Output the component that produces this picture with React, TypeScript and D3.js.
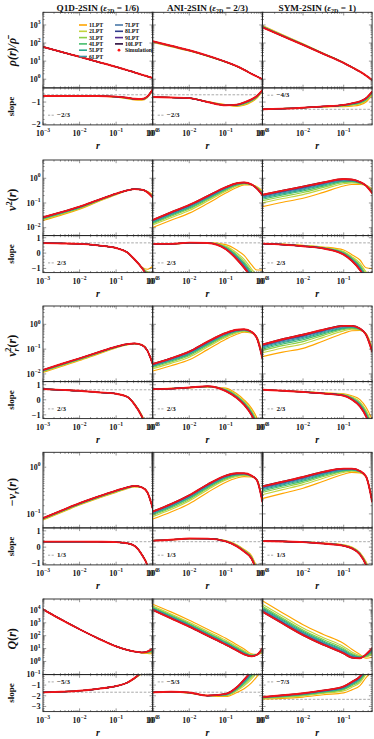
import React from 'react';
import * as d3 from 'd3';

// log10(r) nodes the curves were read at
const R_NODES = [-3, -2.5, -2, -1.5, -1, -0.7, -0.5, -0.3, -0.15, 0];
const R_NODES_SYM = [-3, -2.5, -2, -1.5, -1, -0.8, -0.6, -0.45, -0.3];

const MODELS = ['Q1D-2SIN', 'ANI-2SIN', 'SYM-2SIN'];
const MODEL_EPS = ['1/6', '2/3', '1'];

const LPT_ORDERS = ['1LPT', '2LPT', '3LPT', '4LPT', '5LPT', '6LPT', '7LPT', '8LPT', '9LPT', '10LPT'];
const LPT_COLORS = ['#ffa500', '#c3d43c', '#8ccf45', '#45bd6c', '#27a88c', '#3a98a6', '#4a78a8', '#2f3d8b', '#52298e', '#2a0838'];
// where each order sits inside the fan (1LPT = whole gap to the simulation)
const ORDER_FRACTION = [1, 0.68, 0.5, 0.37, 0.27, 0.19, 0.12, 0.06, 0.01, -0.03];

// ---- density rho(r)/rho_bar (log10) and its slope
const RHO_Q1D = [1.79, 1.51, 1.24, 0.96, 0.68, 0.5, 0.38, 0.25, 0.16, 0.07];
const RHO_Q1D_GAP = [0, 0, 0, 0, 0, 0, 0, 0, 0, 0];
const RHO_Q1D_SLOPE = [-0.72, -0.72, -0.72, -0.72, -0.75, -0.8, -0.85, -0.86, -0.75, -0.42];
const RHO_Q1D_SLOPE_GAP = [0, 0, 0, 0, -0.03, -0.04, -0.05, -0.05, -0.05, -0.03];
const RHO_ANI = [2.1, 1.85, 1.6, 1.3, 0.96, 0.72, 0.52, 0.3, 0.15, 0.0];
const RHO_ANI_GAP = [-0.06, -0.05, -0.04, -0.03, -0.02, -0.01, 0, 0, 0, 0];
const RHO_ANI_SLOPE = [-0.77, -0.79, -0.82, -1.0, -1.15, -1.12, -1.02, -0.88, -0.72, -0.45];
const RHO_ANI_SLOPE_GAP = [0, 0, 0, 0.02, 0.03, -0.08, -0.13, -0.12, -0.1, -0.05];
const RHO_SYM = [2.87, 2.38, 1.9, 1.4, 0.9, 0.66, 0.42, 0.2, -0.05];
const RHO_SYM_GAP = [0.1, 0.08, 0.06, 0.04, 0.02, 0.01, 0, 0, 0];
const RHO_SYM_SLOPE = [-1.33, -1.3, -1.26, -1.2, -1.13, -1.06, -0.97, -0.82, -0.52];
const RHO_SYM_SLOPE_GAP = [0, 0, 0, -0.02, -0.08, -0.13, -0.16, -0.18, -0.15];

// ---- v^2(r)
const V2_Q1D = [-1.58, -1.37, -1.15, -0.88, -0.62, -0.49, -0.44, -0.46, -0.56, -0.77];
const V2_Q1D_GAP = [-0.13, -0.12, -0.1, -0.07, -0.04, -0.01, 0, 0, 0.03, 0.1];
const V2_Q1D_SLOPE = [0.65, 0.63, 0.6, 0.5, 0.33, 0.05, -0.4, -0.95, -1.5, -2.2];
const V2_Q1D_SLOPE_GAP = [0, 0, 0, 0, 0, 0, 0, 0.05, 0.45, 1.35];
const V2_ANI = [-1.69, -1.38, -1.08, -0.72, -0.36, -0.2, -0.17, -0.25, -0.42, -0.68];
const V2_ANI_GAP = [-0.3, -0.32, -0.33, -0.3, -0.24, -0.17, -0.1, -0.02, 0.08, 0.17];
const V2_ANI_SLOPE = [0.6, 0.6, 0.68, 0.66, 0.25, -0.4, -0.95, -1.6, -2.2, -3];
const V2_ANI_SLOPE_GAP = [0.02, 0, -0.02, 0.02, 0.3, 0.6, 0.8, 0.85, 1.1, 1.9];
const V2_SYM = [-0.67, -0.5, -0.34, -0.17, -0.03, -0.05, -0.15, -0.3, -0.6];
const V2_SYM_GAP = [-0.48, -0.47, -0.47, -0.4, -0.28, -0.2, -0.1, 0.02, 0.16];
const V2_SYM_SLOPE = [0.62, 0.55, 0.45, 0.3, -0.1, -0.5, -1.1, -1.8, -2.6];
const V2_SYM_SLOPE_GAP = [0, 0.03, 0.05, 0.1, 0.3, 0.4, 0.65, 0.85, 1.6];

// ---- v_r^2(r)
const VR2_Q1D = [-1.84, -1.6, -1.37, -1.13, -0.9, -0.8, -0.77, -0.83, -1.05, -1.6];
const VR2_Q1D_GAP = [-0.1, -0.1, -0.09, -0.07, -0.05, -0.03, -0.02, 0, 0, 0];
const VR2_Q1D_SLOPE = [0.71, 0.66, 0.6, 0.5, 0.4, 0.2, -0.3, -1.1, -2, -3];
const VR2_Q1D_SLOPE_GAP = [0, 0, 0, 0, 0, 0.02, 0.05, 0.1, 0.2, 0.3];
const VR2_ANI = [-1.6, -1.37, -1.1, -0.7, -0.35, -0.22, -0.2, -0.3, -0.56, -1.37];
const VR2_ANI_GAP = [-0.28, -0.3, -0.33, -0.32, -0.25, -0.18, -0.12, -0.05, 0.05, 0.2];
const VR2_ANI_SLOPE = [0.71, 0.74, 0.82, 0.9, 0.58, 0.12, -0.33, -1.0, -1.8, -3];
const VR2_ANI_SLOPE_GAP = [0.01, 0.02, -0.02, -0.05, 0.2, 0.28, 0.33, 0.45, 0.6, 0.8];
const VR2_SYM = [-0.82, -0.6, -0.42, -0.22, -0.06, -0.06, -0.17, -0.42, -1.1];
const VR2_SYM_GAP = [-0.48, -0.52, -0.55, -0.45, -0.3, -0.2, -0.08, 0.05, 0.15];
const VR2_SYM_SLOPE = [0.67, 0.6, 0.52, 0.42, 0.27, 0.02, -0.44, -1.1, -2.2];
const VR2_SYM_SLOPE_GAP = [0, 0, 0.02, 0.05, 0.13, 0.25, 0.45, 0.6, 0.9];

// ---- -v_r(r)
const VR_Q1D = [-1.09, -0.93, -0.77, -0.63, -0.5, -0.43, -0.4, -0.43, -0.53, -0.88];
const VR_Q1D_GAP = [-0.04, -0.04, -0.04, -0.04, -0.04, -0.03, -0.02, 0, 0, 0];
const VR_Q1D_SLOPE = [0.34, 0.34, 0.34, 0.33, 0.31, 0.24, 0.08, -0.45, -1.1, -2.5];
const VR_Q1D_SLOPE_GAP = [0, 0, 0, 0, 0, 0, 0, 0.02, 0.05, 0.1];
const VR_ANI = [-0.95, -0.79, -0.6, -0.37, -0.18, -0.13, -0.13, -0.18, -0.28, -0.74];
const VR_ANI_GAP = [-0.16, -0.17, -0.18, -0.17, -0.14, -0.1, -0.07, -0.03, 0.02, 0.07];
const VR_ANI_SLOPE = [0.4, 0.45, 0.53, 0.52, 0.35, 0.05, -0.27, -0.7, -1.5, -2.5];
const VR_ANI_SLOPE_GAP = [0, 0, -0.02, 0, 0.05, 0.1, 0.13, 0.18, 0.25, 0.3];
const VR_SYM = [-0.41, -0.31, -0.21, -0.1, -0.03, -0.03, -0.08, -0.2, -0.74];
const VR_SYM_GAP = [-0.26, -0.25, -0.24, -0.2, -0.12, -0.08, -0.04, 0, 0.03];
const VR_SYM_SLOPE = [0.38, 0.35, 0.31, 0.22, 0.08, -0.08, -0.45, -1.1, -2.2];
const VR_SYM_SLOPE_GAP = [0, 0, 0.01, 0.03, 0.06, 0.08, 0.12, 0.2, 0.4];

// ---- Q(r)
const Q_Q1D = [4.05, 3.25, 2.5, 1.8, 1.17, 0.9, 0.77, 0.7, 0.77, 1.0];
const Q_Q1D_GAP = [0, 0, 0, 0, 0, 0, 0, -0.03, -0.15, -0.4];
const Q_Q1D_SLOPE = [-1.68, -1.62, -1.53, -1.35, -1.1, -0.78, -0.35, 0.2, 0.6, 1.0];
const Q_Q1D_SLOPE_GAP = [0, 0, 0, 0, 0, 0, -0.05, -0.15, -0.2, -0.3];
const Q_ANI = [4.0, 3.35, 2.7, 2.0, 1.3, 0.85, 0.55, 0.4, 0.52, 1.02];
const Q_ANI_GAP = [0.45, 0.5, 0.5, 0.5, 0.5, 0.45, 0.42, 0.2, 0.03, -0.34];
const Q_ANI_SLOPE = [-1.67, -1.62, -1.7, -1.98, -1.82, -1.2, -0.5, 0.3, 0.9, 1.5];
const Q_ANI_SLOPE_GAP = [0, -0.03, -0.05, 0, -0.25, -0.5, -0.85, -1.1, -1.1, -1.0];
const Q_SYM = [3.87, 2.95, 2.05, 1.3, 0.62, 0.3, 0.25, 0.55, 1.03];
const Q_SYM_GAP = [0.85, 0.82, 0.8, 0.8, 0.78, 0.65, 0.3, -0.3, -0.7];
const Q_SYM_SLOPE = [-2.12, -1.95, -1.77, -1.5, -1.13, -0.7, -0.2, 0.6, 1.5];
const Q_SYM_SLOPE_GAP = [-0.18, -0.3, -0.35, -0.4, -0.6, -0.75, -0.85, -0.9, -1.2];

// reference power laws drawn as dashed lines
const REF_SLOPES = [[-2 / 3, -2 / 3, -4 / 3], [2 / 3, 2 / 3, 2 / 3], [2 / 3, 2 / 3, 2 / 3], [1 / 3, 1 / 3, 1 / 3], [-5 / 3, -5 / 3, -7 / 3]];
const REF_LABELS = [['−2/3', '−2/3', '−4/3'], ['2/3', '2/3', '2/3'], ['2/3', '2/3', '2/3'], ['1/3', '1/3', '1/3'], ['−5/3', '−5/3', '−7/3']];

// axis extents (log10 for the upper panels)
const LOG_DOMAINS = [[-0.48, 3.7], [-2.32, 0.74], [-2.31, 0.74], [-1.3, 0.32], [-1.02, 4.85]];
const SLOPE_DOMAINS = [[-2.05, -0.35], [-1.27, 1.14], [-1.25, 1.21], [-1.09, 1.18], [-3.48, -0.02]];
const SLOPE_TICKS = [[-2, -1], [-1, 0, 1], [-1, 0, 1], [-1, 0, 1], [-3, -2, -1]];
const X_MAX = [1, 1, 0.5];

const ROWS = [
  { top: [RHO_Q1D, RHO_ANI, RHO_SYM], topGap: [RHO_Q1D_GAP, RHO_ANI_GAP, RHO_SYM_GAP], slope: [RHO_Q1D_SLOPE, RHO_ANI_SLOPE, RHO_SYM_SLOPE], slopeGap: [RHO_Q1D_SLOPE_GAP, RHO_ANI_SLOPE_GAP, RHO_SYM_SLOPE_GAP], labelTop: [false, false, true] },
  { top: [V2_Q1D, V2_ANI, V2_SYM], topGap: [V2_Q1D_GAP, V2_ANI_GAP, V2_SYM_GAP], slope: [V2_Q1D_SLOPE, V2_ANI_SLOPE, V2_SYM_SLOPE], slopeGap: [V2_Q1D_SLOPE_GAP, V2_ANI_SLOPE_GAP, V2_SYM_SLOPE_GAP], labelTop: [false, false, false] },
  { top: [VR2_Q1D, VR2_ANI, VR2_SYM], topGap: [VR2_Q1D_GAP, VR2_ANI_GAP, VR2_SYM_GAP], slope: [VR2_Q1D_SLOPE, VR2_ANI_SLOPE, VR2_SYM_SLOPE], slopeGap: [VR2_Q1D_SLOPE_GAP, VR2_ANI_SLOPE_GAP, VR2_SYM_SLOPE_GAP], labelTop: [false, false, false] },
  { top: [VR_Q1D, VR_ANI, VR_SYM], topGap: [VR_Q1D_GAP, VR_ANI_GAP, VR_SYM_GAP], slope: [VR_Q1D_SLOPE, VR_ANI_SLOPE, VR_SYM_SLOPE], slopeGap: [VR_Q1D_SLOPE_GAP, VR_ANI_SLOPE_GAP, VR_SYM_SLOPE_GAP], labelTop: [false, false, false] },
  { top: [Q_Q1D, Q_ANI, Q_SYM], topGap: [Q_Q1D_GAP, Q_ANI_GAP, Q_SYM_GAP], slope: [Q_Q1D_SLOPE, Q_ANI_SLOPE, Q_SYM_SLOPE], slopeGap: [Q_Q1D_SLOPE_GAP, Q_ANI_SLOPE_GAP, Q_SYM_SLOPE_GAP], labelTop: [true, true, true] },
];

const FONT = '"Liberation Serif", "DejaVu Serif", serif';
const COL_LEFT = 43;
const COL_W = 109.7;
const ROW_TOP = [12.3, 160, 306, 452.3, 599];
const TOP_H = 75.6;
const SLOPE_H = 37;
const SIM_COLOR = '#ff1414';

function pathFor(nodes: number[], vals: number[], x: any, y: any, isLog: boolean) {
  const gen = d3.line<number>()
    .x((_, i) => x(Math.pow(10, nodes[i])))
    .y(v => y(isLog ? Math.pow(10, v) : v))
    .curve(d3.curveMonotoneX);
  return gen(vals) || '';
}

function Pow({ x, y, exp, anchor }: { x: number; y: number; exp: string; anchor: string }) {
  return (
    <text x={x} y={y} textAnchor={anchor} fontSize={8} fontWeight="bold" fontFamily={FONT} fill="#111">
      10<tspan dy={-3.6} fontSize={5.6}>{exp}</tspan>
    </text>
  );
}

function YLabel({ row, cy }: { row: number; cy: number }) {
  const common = { fontFamily: FONT, fontWeight: 'bold' as const, fontSize: 12, fill: '#111', textAnchor: 'middle' as const };
  const tr = `translate(16,${cy}) rotate(-90)`;
  if (row === 0) return <text transform={tr} {...common} fontStyle="italic">ρ(r)/ρ̄</text>;
  if (row === 1) return <text transform={tr} {...common}><tspan fontStyle="italic">v</tspan><tspan dy={-4.5} fontSize={8.5}>2</tspan><tspan dy={4.5}>(</tspan><tspan fontStyle="italic">r</tspan>)</text>;
  if (row === 2) return <text transform={tr} {...common}><tspan fontStyle="italic">v</tspan><tspan dy={3} fontSize={8.5} fontStyle="italic">r</tspan><tspan dx={-3.5} dy={-8} fontSize={8.5}>2</tspan><tspan dy={5}>(</tspan><tspan fontStyle="italic">r</tspan>)</text>;
  if (row === 3) return <text transform={tr} {...common}>−<tspan fontStyle="italic">v</tspan><tspan dy={3} fontSize={8.5} fontStyle="italic">r</tspan><tspan dy={-3}>(</tspan><tspan fontStyle="italic">r</tspan>)</text>;
  return <text transform={tr} {...common}><tspan fontStyle="italic">Q</tspan>(<tspan fontStyle="italic">r</tspan>)</text>;
}

function Panel({ row, col, part }: { row: number; col: number; part: 'top' | 'slope' }) {
  const spec = ROWS[row];
  const left = COL_LEFT + col * COL_W;
  const top = part === 'top' ? ROW_TOP[row] : ROW_TOP[row] + TOP_H;
  const h = part === 'top' ? TOP_H : SLOPE_H;
  const nodes = col === 2 ? R_NODES_SYM : R_NODES;
  const x = d3.scaleLog().domain([1e-3, X_MAX[col]]).range([left, left + COL_W]);
  const isLog = part === 'top';
  const dom = isLog ? LOG_DOMAINS[row] : SLOPE_DOMAINS[row];
  const y: any = isLog
    ? d3.scaleLog().domain([Math.pow(10, dom[0]), Math.pow(10, dom[1])]).range([top + h, top])
    : d3.scaleLinear().domain(dom).range([top + h, top]);
  const sim = isLog ? spec.top[col] : spec.slope[col];
  const gap = isLog ? spec.topGap[col] : spec.slopeGap[col];
  const clipId = `clip-${row}-${col}-${part}`;

  const xTicks = x.ticks();
  const isMajor = (t: number) => Math.abs(Math.log10(t) - Math.round(Math.log10(t))) < 1e-6;
  let yMajor: number[] = [];
  let yMinor: number[] = [];
  if (isLog) {
    const all = y.ticks(40) as number[];
    yMajor = all.filter(isMajor);
    yMinor = all.filter(t => !isMajor(t));
  } else {
    yMajor = SLOPE_TICKS[row];
    yMinor = d3.range(Math.ceil(dom[0] * 5), Math.floor(dom[1] * 5) + 1).map(v => v / 5).filter(v => Math.abs(v - Math.round(v)) > 1e-6);
  }
  const tickC = '#555';
  const refY = !isLog ? y(REF_SLOPES[row][col]) : 0;
  const labelTop = spec.labelTop[col];
  const labY = labelTop ? top + 9.5 : top + h - 7.5;

  return (
    <g>
      <defs>
        <clipPath id={clipId}><rect x={left} y={top} width={COL_W} height={h} /></clipPath>
      </defs>
      <g clipPath={`url(#${clipId})`}>
        {!isLog && (
          <line x1={left} x2={left + COL_W} y1={refY} y2={refY} stroke="#a0a0a0" strokeWidth={0.9} strokeDasharray="2.6,1.6" />
        )}
        {LPT_ORDERS.map((name, k) => (
          <path key={name} d={pathFor(nodes, sim.map((v, i) => v + gap[i] * ORDER_FRACTION[k]), x, y, isLog)}
            fill="none" stroke={LPT_COLORS[k]} strokeWidth={1.15} />
        ))}
        <path d={pathFor(nodes, sim, x, y, isLog)} fill="none" stroke={SIM_COLOR} strokeWidth={1.9} strokeOpacity={0.92} strokeLinecap="round" />
      </g>
      {/* ticks, inward on all sides */}
      {xTicks.map((t: number, i: number) => {
        const len = isMajor(t) ? 3.2 : 1.6;
        const xx = x(t);
        return (
          <g key={`xt${i}`}>
            <line x1={xx} x2={xx} y1={top + h} y2={top + h - len} stroke={tickC} strokeWidth={0.6} />
            <line x1={xx} x2={xx} y1={top} y2={top + len} stroke={tickC} strokeWidth={0.6} />
          </g>
        );
      })}
      {yMajor.concat(yMinor).map((t, i) => {
        const len = i < yMajor.length ? 3.2 : 1.6;
        const yy = y(t);
        return (
          <g key={`yt${i}`}>
            <line x1={left} x2={left + len} y1={yy} y2={yy} stroke={tickC} strokeWidth={0.6} />
            <line x1={left + COL_W} x2={left + COL_W - len} y1={yy} y2={yy} stroke={tickC} strokeWidth={0.6} />
          </g>
        );
      })}
      <rect x={left} y={top} width={COL_W} height={h} fill="none" stroke="#222" strokeWidth={0.9} />
      {col === 0 && yMajor.map(t => (
        isLog
          ? <Pow key={`yl${t}`} x={40.5} y={y(t) + 2.8} exp={String(Math.round(Math.log10(t))).replace('-', '−')} anchor="end" />
          : <text key={`yl${t}`} x={40.5} y={y(t) + 2.9} textAnchor="end" fontSize={8.2} fontWeight="bold" fontFamily={FONT} fill="#111">{String(t).replace('-', '−')}</text>
      ))}
      {!isLog && (
        <g>
          <line x1={left + 5} x2={left + 12} y1={labY - 2.2} y2={labY - 2.2} stroke="#a0a0a0" strokeWidth={0.9} strokeDasharray="2.2,1.4" />
          <text x={left + 14} y={labY} fontSize={7} fontWeight="bold" fontFamily={FONT} fill="#111">{REF_LABELS[row][col]}</text>
        </g>
      )}
      {!isLog && xTicks.filter(isMajor).map((t: number) => (
        <Pow key={`xl${t}`} x={x(t)} y={top + h + 11} exp={String(Math.round(Math.log10(t))).replace('-', '−')} anchor="middle" />
      ))}
      {!isLog && (
        <text x={left + COL_W / 2} y={top + h + 24.5} textAnchor="middle" fontSize={10} fontWeight="bold" fontStyle="italic" fontFamily={FONT} fill="#111">r</text>
      )}
    </g>
  );
}

function Legend() {
  const colA = LPT_ORDERS.slice(0, 6);
  const colB = LPT_ORDERS.slice(6);
  const fs = 5.8;
  return (
    <g fontFamily={FONT} fontWeight="bold" fontSize={fs} fill="#111">
      {colA.map((name, i) => (
        <g key={name}>
          <line x1={79} x2={87} y1={25 + i * 6.3} y2={25 + i * 6.3} stroke={LPT_COLORS[i]} strokeWidth={1.6} />
          <text x={89} y={25 + i * 6.3 + 2}>{name}</text>
        </g>
      ))}
      {colB.map((name, i) => (
        <g key={name}>
          <line x1={115} x2={123} y1={25 + i * 6.3} y2={25 + i * 6.3} stroke={LPT_COLORS[i + 6]} strokeWidth={1.6} />
          <text x={125} y={25 + i * 6.3 + 2}>{name}</text>
        </g>
      ))}
      <circle cx={119} cy={25 + 4 * 6.3} r={1.4} fill={SIM_COLOR} />
      <text x={125} y={25 + 4 * 6.3 + 2}>Simulation</text>
    </g>
  );
}

export default function App() {
  return (
    <svg width={374} height={739} style={{ position: 'absolute', left: 0, top: 0, background: '#fff' }}>
      <rect width={374} height={739} fill="#fff" />
      {MODELS.map((m, c) => (
        <text key={m} x={COL_LEFT + c * COL_W + COL_W / 2} y={11.3} textAnchor="middle" fontSize={9.2} fontWeight="bold" fontFamily={FONT} fill="#111">
          {m} (<tspan fontStyle="italic">ε</tspan><tspan dy={2} fontSize={6}>2D</tspan><tspan dy={-2}> = {MODEL_EPS[c]})</tspan>
        </text>
      ))}
      {ROWS.map((_, r) => (
        <g key={r}>
          {[0, 1, 2].map(c => (
            <g key={c}>
              <Panel row={r} col={c} part="top" />
              <Panel row={r} col={c} part="slope" />
            </g>
          ))}
          <YLabel row={r} cy={ROW_TOP[r] + TOP_H / 2 + 2} />
          <text transform={`translate(13.5,${ROW_TOP[r] + TOP_H + SLOPE_H / 2}) rotate(-90)`} textAnchor="middle" fontSize={9} fontWeight="bold" fontFamily={FONT} fill="#111">slope</text>
        </g>
      ))}
      <Legend />
    </svg>
  );
}
